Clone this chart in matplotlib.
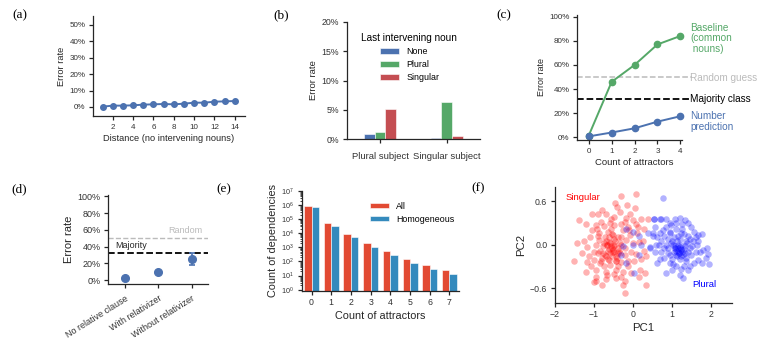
import matplotlib
matplotlib.use("Agg")
import matplotlib.pyplot as plt
import numpy as np
from matplotlib.ticker import FuncFormatter, LogLocator, NullFormatter

# ---------------- data ----------------
# (a)
dist_a = [1, 2, 3, 4, 5, 6, 7, 8, 9, 10, 11, 12, 13, 14]
err_a = [0.2, 0.8, 0.8, 1.0, 1.4, 1.6, 1.8, 1.6, 2.0, 2.6, 2.6, 3.2, 3.4, 3.6]
ci_a = [0.2, 0.2, 0.2, 0.3, 0.3, 0.3, 0.3, 0.4, 0.4, 0.4, 0.5, 0.6, 0.7, 1.0]

# (b)
subjects_b = ["Plural subject", "Singular subject"]
hue_b = ["None", "Plural", "Singular"]
vals_b_none = [0.9, 0.3]
vals_b_plural = [1.3, 6.4]
vals_b_singular = [5.2, 0.6]

# (c)
attr_c = [0, 1, 2, 3, 4]
baseline_c = [1.5, 46.0, 60.0, 77.0, 84.0]
baseline_ci = [0.5, 1.0, 1.0, 1.5, 2.5]
number_c = [0.8, 4.0, 7.5, 13.0, 17.5]
number_ci = [0.2, 0.5, 0.8, 1.5, 2.5]
random_level = 50.0
majority_level = 32.0

# (d)
cond_d = ["No relative clause", "With relativizer", "Without relativizer"]
err_d = [3.0, 10.0, 25.0]
ci_d_low = [0.8, 1.0, 7.0]
ci_d_high = [0.8, 1.0, 8.0]

# (e)
attr_e = [0, 1, 2, 3, 4, 5, 6, 7]
count_all = [8.1e5, 4.8e4, 8.9e3, 1.9e3, 520, 158, 53, 25]
count_homog = [6.9e5, 3.3e4, 5.5e3, 1.1e3, 300, 78, 28, 13]

# (f) PCA points
sing_x = [0.08, -0.31, -0.46, -1.38, -0.81, -1.05, -0.91, -0.69, -0.49, -0.18, 0.0, 0.21, 0.38,
          -0.95, -0.74, -0.48, -0.31, -0.14, 0.08, 0.27, -0.87, -0.65, -0.52, -0.31, -0.09, 0.10,
          -1.44, -1.17, -0.95, -0.74, -0.61, -0.48, -0.35, -0.18, 0.0, 0.16,
          -1.51, -1.17, -0.91, -0.78, -0.65, -0.52, -0.39, -0.22, -0.05, 0.08, 0.33,
          -0.99, -0.82, -0.61, -0.44, -0.31, -0.14, -1.21, -0.95, -0.69, -0.48, -0.27, -0.05, 0.31,
          -0.95, -0.69, -0.44, -0.20, 0.33, -0.20,
          -0.55, -0.60, -0.45, -0.70, -0.50, -0.40, -0.65, -0.85, -0.30, -0.55, -0.75, -0.40,
          -1.00, -0.20, -0.10, 0.20, 0.25, -1.10, -0.60, -0.35, 0.05, -0.95, -0.25, 0.15,
          -0.58, -0.62, -0.48, -0.72, -0.42, -0.66, -0.53, -0.80, -0.36, -0.88,
          -1.25, -1.30, -1.12, -1.05, -1.20, -0.90, -0.82, -0.78, -0.70, -0.62, -0.56, -0.50,
          -0.47, -0.43, -0.38, -0.33, -0.27, -0.22, -0.12, -0.08, 0.02, 0.12, 0.18, 0.28,
          -0.60, -0.68, -0.85, -1.08, -0.92, -0.57, -0.42, -0.15, -0.66, -0.51, -0.59, -0.73,
          -0.45, -0.30, -0.80, -1.00]
sing_y = [0.70, 0.67, 0.58, 0.34, 0.48, 0.42, 0.42, 0.42, 0.38, 0.37, 0.34, 0.36, 0.35,
          0.27, 0.26, 0.27, 0.29, 0.25, 0.28, 0.22, 0.16, 0.17, 0.13, 0.11, 0.13, 0.16,
          0.02, -0.03, 0.0, 0.02, 0.04, 0.0, 0.02, 0.06, 0.02, 0.04,
          -0.23, -0.24, -0.12, -0.11, -0.09, -0.07, -0.12, -0.14, -0.10, -0.13, -0.15,
          -0.21, -0.23, -0.21, -0.22, -0.24, -0.23, -0.37, -0.35, -0.37, -0.41, -0.37, -0.39, -0.39,
          -0.50, -0.47, -0.46, -0.50, -0.55, -0.66,
          -0.05, -0.12, -0.15, 0.05, 0.08, -0.05, -0.20, -0.08, 0.0, 0.15, -0.30, -0.30,
          -0.10, -0.05, 0.20, -0.20, 0.05, 0.10, 0.30, 0.45, 0.50, -0.45, -0.55, -0.45,
          -0.02, -0.06, -0.10, -0.14, -0.18, 0.00, -0.16, -0.18, -0.08, 0.06,
          0.05, -0.12, -0.15, 0.20, 0.28, 0.12, 0.32, -0.02, -0.16, 0.10, 0.22, -0.02,
          0.05, -0.22, 0.10, -0.12, 0.20, 0.32, -0.30, 0.42, -0.22, 0.25, -0.35, -0.08,
          -0.28, -0.42, -0.25, -0.30, 0.22, 0.35, 0.52, 0.55, 0.00, -0.10, 0.03, 0.10,
          -0.35, -0.45, -0.55, -0.52]
plur_x = [0.75, 0.52, 0.69, 1.06, 1.19, 1.32, 1.49, 1.66, 0.98, 0.85, 0.55, 0.38, 0.50, 0.68,
          0.80, 0.93, 1.10, 1.23, 1.40, 1.53, 0.42, 0.59, 0.72, 0.85, 0.98, 1.06, 1.15, 1.23,
          1.32, 1.45, 1.62, 1.92, 1.94, 0.68, 0.80, 0.93, 1.10, 1.23, 1.36, 1.49, 1.66, 0.85,
          1.02, 1.23, 1.45, 1.28, 1.79, 1.75,
          1.10, 1.20, 1.25, 1.15, 1.05, 1.30, 1.00, 1.35, 1.20, 1.12, 0.90, 1.40, 0.95, 1.25,
          1.55, 0.70, 0.60, 1.60, 1.00, 1.40, 1.18, 1.08, 1.28, 1.22, 1.14,
          -0.18, 0.16, -0.01, -0.27, -0.01, 0.19, -0.31, -0.18, 0.03, 0.16,
          0.53, 0.72, 0.50, 0.42,
          1.05, 1.15, 1.30, 1.20, 1.00, 0.90, 0.80, 1.35, 1.50, 1.45, 1.60, 1.70, 1.85, 1.55,
          1.30, 1.10, 0.95, 0.75, 0.65, 0.55, 1.10, 1.25, 1.40, 0.85, 1.18, 1.22, 1.08, 1.32,
          1.02, 0.90, 1.65, 1.75, 0.60, 1.90, 1.20, 0.95, 1.38, 1.12]
plur_y = [0.64, 0.35, 0.36, 0.36, 0.37, 0.34, 0.25, 0.14, 0.27, 0.25, 0.25, 0.16, 0.12, 0.16,
          0.12, 0.16, 0.21, 0.16, 0.12, 0.05, -0.05, 0.0, 0.05, 0.0, 0.02, -0.02, -0.05, -0.07,
          -0.02, -0.05, 0.0, -0.13, -0.27, -0.20, -0.18, -0.14, -0.14, -0.16, -0.18, -0.14, -0.21, -0.39,
          -0.27, -0.34, -0.30, -0.46, -0.07, -0.25,
          -0.08, -0.03, -0.10, 0.0, -0.10, -0.06, 0.05, 0.05, 0.08, -0.15, -0.05, -0.10, 0.30, 0.28,
          0.18, -0.10, 0.10, -0.10, -0.35, -0.35, -0.12, -0.04, -0.14, -0.06, -0.09,
          0.21, 0.12, 0.18, -0.02, 0.0, 0.0, -0.14, -0.25, -0.39, -0.14,
          0.36, 0.36, 0.16, -0.03,
          0.10, 0.12, 0.15, -0.20, -0.20, 0.08, -0.05, -0.22, -0.02, 0.08, 0.10, -0.10, -0.18, -0.25,
          -0.30, -0.30, -0.25, 0.20, 0.00, -0.10, 0.30, 0.22, 0.30, 0.35, -0.12, -0.01, -0.04, -0.12,
          0.00, -0.12, 0.05, 0.15, -0.25, -0.05, -0.42, 0.18, 0.02, 0.05]

# ---------------- style ----------------
plt.rcParams.update({
    "font.family": ["Liberation Sans", "DejaVu Sans"],
    "axes.edgecolor": "#262626",
    "axes.linewidth": 0.9,
    "axes.labelcolor": "#262626",
    "xtick.color": "#262626",
    "ytick.color": "#262626",
    "xtick.labelcolor": "#333333",
    "ytick.labelcolor": "#333333",
    "xtick.major.size": 3,
    "ytick.major.size": 3,
    "xtick.major.width": 0.9,
    "ytick.major.width": 0.9,
    "xtick.major.pad": 2.5,
    "ytick.major.pad": 2.5,
    "axes.spines.top": False,
    "axes.spines.right": False,
    "axes.labelpad": 2.5,
})

BLUE = "#4C72B0"
GREEN = "#55A868"
RED = "#C44E52"
GG_RED = "#E24A33"
GG_BLUE = "#348ABD"
GREY = "#bbbbbb"

W, H = 768, 350
fig = plt.figure(figsize=(W / 100, H / 100), dpi=100)


def box(l, t, r, b):
    return [l / W, 1 - b / H, (r - l) / W, (b - t) / H]


pct = FuncFormatter(lambda v, p: "%d%%" % round(v))

# ---------------- (a) ----------------
ax = fig.add_axes(box(93, 16, 245, 116))
ax.errorbar(dist_a, err_a, yerr=ci_a, color=BLUE, marker="o", ms=4, lw=1.4,
            elinewidth=1.2, capsize=0)
ax.set_xlim(0.05, 15)
ax.set_ylim(-5.5, 55.3)
ax.set_xticks(range(2, 15, 2))
ax.set_yticks(range(0, 51, 10))
ax.yaxis.set_major_formatter(pct)
ax.tick_params(labelsize=5.8)
ax.set_xlabel("Distance (no intervening nouns)", fontsize=6.7)
ax.set_ylabel("Error rate", fontsize=6.7)

# ---------------- (b) ----------------
ax = fig.add_axes(box(346.7, 21.7, 480, 139.3))
xb = np.arange(len(subjects_b))
bw = 0.16
for off, vals, col, lab in [(-bw, vals_b_none, BLUE, hue_b[0]),
                            (0, vals_b_plural, GREEN, hue_b[1]),
                            (bw, vals_b_singular, RED, hue_b[2])]:
    ax.bar(xb + off, vals, width=bw, color=col, edgecolor="white", linewidth=0.4, label=lab)
ax.set_xlim(-0.5, 1.5)
ax.set_ylim(0, 20)
ax.set_xticks(xb)
ax.set_xticklabels(subjects_b)
ax.set_yticks(range(0, 21, 5))
ax.yaxis.set_major_formatter(pct)
ax.tick_params(axis="y", labelsize=6.3)
ax.tick_params(axis="x", labelsize=6.8, pad=6)
ax.set_ylabel("Error rate", fontsize=6.8)
leg = ax.legend(title="Last intervening noun", frameon=False, fontsize=6.4,
                title_fontsize=7.2, loc="upper center", bbox_to_anchor=(0.47, 0.97),
                handlelength=2.2, handleheight=0.6, labelspacing=0.45, handletextpad=0.8)

# ---------------- (c) ----------------
ax = fig.add_axes(box(577.3, 15, 691.8, 140))
ax.axhline(random_level, color=GREY, ls="--", lw=1.1)
ax.axhline(majority_level, color="black", ls="--", lw=1.3)
ax.errorbar(attr_c, baseline_c, yerr=baseline_ci, color=GREEN, marker="o", ms=4.5, lw=1.4,
            elinewidth=1.2, capsize=0)
ax.errorbar(attr_c, number_c, yerr=number_ci, color=BLUE, marker="o", ms=4.5, lw=1.4,
            elinewidth=1.2, capsize=0)
ax.set_xlim(-0.5, 4.5)
ax.set_ylim(-2.2, 101.4)
ax.spines["bottom"].set_bounds(-0.5, 4.06)
ax.set_xticks(attr_c)
ax.set_yticks(range(0, 101, 20))
ax.yaxis.set_major_formatter(pct)
ax.tick_params(labelsize=5.8)
ax.set_xlabel("Count of attractors", fontsize=6.8)
ax.set_ylabel("Error rate", fontsize=6.5)
tx = 4.42
ax.text(tx, 82, "Baseline\n(common\n nouns)", color=GREEN, fontsize=7.2, va="center",
        ha="left", linespacing=1.05, clip_on=False)
ax.text(tx, 49.5, "Random guess", color=GREY, fontsize=7.2, va="center", ha="left", clip_on=False)
ax.text(tx, 31.5, "Majority class", color="black", fontsize=7.2, va="center", ha="left",
        clip_on=False)
ax.text(tx, 13, "Number\nprediction", color=BLUE, fontsize=7.2, va="center", ha="left",
        linespacing=1.05, clip_on=False)

# ---------------- (d) ----------------
ax = fig.add_axes(box(108.3, 195, 208.3, 284))
ax.axhline(random_level, color=GREY, ls="--", lw=1.0)
ax.axhline(majority_level, color="black", ls="--", lw=1.3)
xd = np.arange(len(cond_d))
ax.errorbar(xd, err_d, yerr=[ci_d_low, ci_d_high], color=BLUE, marker="o", ms=5.5, ls="none",
            elinewidth=1.2, capsize=2.5, capthick=1.2)
ax.set_xlim(-0.5, 2.5)
ax.set_ylim(-4.4, 101.5)
ax.set_xticks(xd)
ax.set_xticklabels(cond_d, rotation=32, ha="right", rotation_mode="anchor")
ax.set_yticks(range(0, 101, 20))
ax.yaxis.set_major_formatter(pct)
ax.tick_params(labelsize=6.5)
ax.tick_params(axis="x", pad=4)
ax.set_ylabel("Error rate", fontsize=8)
ax.text(1.3, 54, "Random", color=GREY, fontsize=6.5, va="bottom", ha="left")
ax.text(-0.3, 35.5, "Majority", color="#262626", fontsize=6.5, va="bottom", ha="left")

# ---------------- (e) ----------------
ax = fig.add_axes(box(301.7, 190.7, 459.3, 290.7))
xe = np.arange(len(attr_e))
ew = 0.38
ax.bar(xe - ew / 2, count_all, width=ew, color=GG_RED, edgecolor="white", linewidth=0.4,
       label="All")
ax.bar(xe + ew / 2, count_homog, width=ew, color=GG_BLUE, edgecolor="white", linewidth=0.4,
       label="Homogeneous")
ax.set_yscale("log")
ax.set_ylim(0.85, 1e7)
ax.set_xlim(-0.5, 7.5)
ax.set_xticks(xe)
ax.set_xticklabels([str(v) for v in attr_e])
ax.yaxis.set_major_locator(LogLocator(base=10, numticks=10))
ax.yaxis.set_minor_locator(LogLocator(base=10, subs=np.arange(2, 10), numticks=20))
ax.yaxis.set_minor_formatter(NullFormatter())
ax.tick_params(axis="y", which="minor", length=1.6, width=0.6)
ax.tick_params(labelsize=6.3)
ax.tick_params(axis="y", labelsize=5.2)
ax.set_xlabel("Count of attractors", fontsize=7.8)
ax.set_ylabel("Count of dependencies", fontsize=7.8)
ax.legend(frameon=False, fontsize=6.4, loc="upper right", bbox_to_anchor=(1.02, 0.97),
          handlelength=2.2, handleheight=0.6, labelspacing=0.45)

# ---------------- (f) ----------------
ax = fig.add_axes(box(555, 186.7, 731.7, 302.7))
ax.scatter(sing_x, sing_y, s=22, color="red", alpha=0.3, linewidths=0)
ax.scatter(plur_x, plur_y, s=22, color="blue", alpha=0.3, linewidths=0)
ax.set_xlim(-2, 2.52)
ax.set_ylim(-0.8, 0.8)
ax.set_xticks([-2, -1, 0, 1, 2])
ax.set_yticks([-0.6, 0.0, 0.6])
ax.set_yticklabels(["\u22120.6", "0.0", "0.6"])
ax.tick_params(labelsize=6.3)
ax.set_xlabel("PC1", fontsize=8.2)
ax.set_ylabel("PC2", fontsize=8.2)
ax.text(-1.72, 0.645, "Singular", color="red", fontsize=6.8, va="center", ha="left")
ax.text(1.52, -0.553, "Plural", color="blue", fontsize=6.8, va="center", ha="left")

# ---------------- panel labels ----------------
for lab, x, y in [("(a)", 12.5, 15), ("(b)", 273, 15), ("(c)", 496.5, 15),
                  ("(d)", 11.5, 189), ("(e)", 216.5, 189), ("(f)", 471.5, 188)]:
    fig.text(x / W, 1 - y / H, lab, fontsize=9.5, family="Liberation Serif", va="center",
             ha="left", color="black")

fig.savefig("out.png", dpi=100)
